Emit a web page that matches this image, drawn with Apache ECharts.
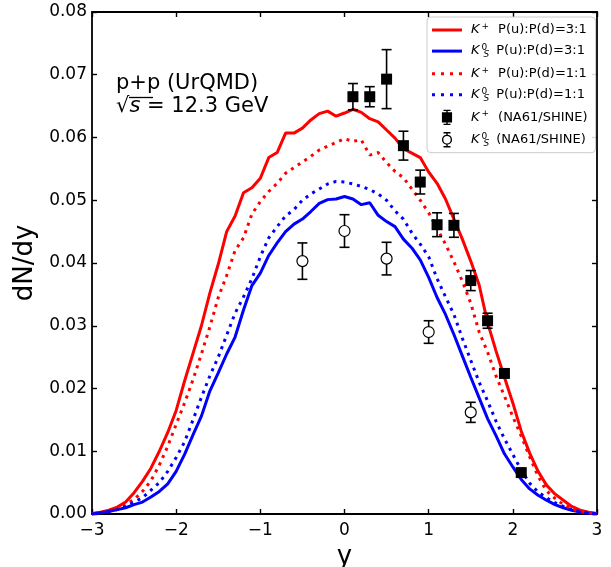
<!DOCTYPE html>
<html>
<head>
<meta charset="utf-8">
<script src="https://cdn.jsdelivr.net/npm/echarts@6/dist/echarts.min.js"></script>
<style>
html,body{margin:0;padding:0;background:#fff;}
#chart{width:611px;height:567px;}
</style>
</head>
<body>
<div id="chart"></div>
<script>
// ---- data ----
const rapidity = [-3.0,-2.9,-2.8,-2.7,-2.6,-2.5,-2.4,-2.3,-2.2,-2.1,-2.0,-1.9,-1.8,-1.7,-1.6,-1.5,-1.4,-1.3,-1.2,-1.1,-1.0,-0.9,-0.8,-0.7,-0.6,-0.5,-0.4,-0.3,-0.2,-0.1,0.0,0.1,0.2,0.3,0.4,0.5,0.6,0.7,0.8,0.9,1.0,1.1,1.2,1.3,1.4,1.5,1.6,1.7,1.8,1.9,2.0,2.1,2.2,2.3,2.4,2.5,2.6,2.7,2.8,2.9,3.0];

const kplus31 = [0.0001,0.0003,0.0006,0.0011,0.0019,0.0034,0.0052,0.0073,0.0100,0.0130,0.0165,0.0212,0.0256,0.0300,0.0352,0.0398,0.0450,0.0475,0.0512,0.0520,0.0535,0.0568,0.0576,0.0607,0.0607,0.0615,0.0628,0.0638,0.0642,0.0634,0.0639,0.0645,0.0640,0.0630,0.0625,0.0612,0.0599,0.0582,0.0575,0.0568,0.0545,0.0527,0.0502,0.0470,0.0438,0.0403,0.0365,0.0305,0.0260,0.0218,0.0177,0.0132,0.0097,0.0068,0.0046,0.0032,0.0022,0.0012,0.0006,0.0003,0.0001];

const k0s31 = [0.0000,0.0002,0.0004,0.0007,0.0010,0.0015,0.0019,0.0027,0.0036,0.0048,0.0068,0.0095,0.0126,0.0156,0.0196,0.0225,0.0255,0.0282,0.0325,0.0364,0.0384,0.0412,0.0432,0.0450,0.0462,0.0470,0.0482,0.0495,0.0501,0.0502,0.0506,0.0502,0.0493,0.0496,0.0476,0.0466,0.0458,0.0438,0.0424,0.0405,0.0377,0.0345,0.0318,0.0286,0.0252,0.0218,0.0185,0.0152,0.0125,0.0096,0.0075,0.0055,0.0040,0.0030,0.0022,0.0015,0.0010,0.0006,0.0003,0.0001,0.0000];

const kplus11 = [0.0000,0.0002,0.0004,0.0010,0.0015,0.0023,0.0036,0.0053,0.0078,0.0108,0.0143,0.0177,0.0214,0.0255,0.0298,0.0345,0.0380,0.0420,0.0440,0.0478,0.0498,0.0514,0.0527,0.0543,0.0552,0.0561,0.0570,0.0580,0.0586,0.0592,0.0598,0.0594,0.0596,0.0572,0.0576,0.0560,0.0546,0.0536,0.0518,0.0500,0.0480,0.0455,0.0430,0.0402,0.0371,0.0336,0.0290,0.0258,0.0220,0.0188,0.0155,0.0124,0.0091,0.0060,0.0037,0.0025,0.0015,0.0008,0.0004,0.0002,0.0000];

const k0s11 = [0.0000,0.0002,0.0004,0.0007,0.0012,0.0019,0.0026,0.0038,0.0050,0.0068,0.0090,0.0115,0.0150,0.0186,0.0220,0.0250,0.0285,0.0320,0.0346,0.0375,0.0410,0.0440,0.0458,0.0475,0.0485,0.0500,0.0510,0.0518,0.0526,0.0530,0.0529,0.0526,0.0522,0.0517,0.0510,0.0500,0.0483,0.0470,0.0448,0.0430,0.0410,0.0375,0.0346,0.0318,0.0280,0.0245,0.0210,0.0180,0.0148,0.0120,0.0095,0.0070,0.0049,0.0035,0.0026,0.0018,0.0012,0.0007,0.0004,0.0002,0.0000];

// NA61/SHINE measurements
const kplusDataY   = [0.1,0.3,0.5,0.7,0.9,1.1,1.3,1.5,1.7,1.9,2.1];
const kplusDataVal = [0.0665,0.0665,0.0693,0.0587,0.0529,0.0461,0.0460,0.0372,0.0308,0.0224,0.0066];
const kplusDataErr = [0.0021,0.0016,0.0047,0.0023,0.0019,0.0019,0.0019,0.0016,0.0012,0.0004,0.0003];

const k0sDataY   = [-0.5,0.0,0.5,1.0,1.5];
const k0sDataVal = [0.0403,0.0451,0.0407,0.0290,0.0162];
const k0sDataErr = [0.0029,0.0026,0.0026,0.0018,0.0016];

// ---- build ----
const pairs = (xs, ys) => xs.map((x, i) => [x, ys[i]]);
const errTriples = (xs, ys, es) => xs.map((x, i) => [x, ys[i], es[i]]);

const labelText = {
  kp31: '{k|K}{sp|+}{t|P(u):P(d)=3:1}',
  ks31: '{k|K}{s0|0}{ss|S}{t|P(u):P(d)=3:1}',
  kp11: '{k|K}{sp|+}{t|P(u):P(d)=1:1}',
  ks11: '{k|K}{s0|0}{ss|S}{t|P(u):P(d)=1:1}',
  kpd:  '{k|K}{sp|+}{t|(NA61/SHINE)}',
  ksd:  '{k|K}{s0|0}{ss|S}{t|(NA61/SHINE)}'
};

function errRender(params, api) {
  const x = api.value(0), y = api.value(1), e = api.value(2);
  const top = api.coord([x, y + e]);
  const bot = api.coord([x, y - e]);
  const hw = 5;
  const st = {stroke: '#000', lineWidth: 1.6};
  return {
    type: 'group',
    children: [
      {type: 'line', shape: {x1: top[0], y1: top[1], x2: bot[0], y2: bot[1]}, style: st},
      {type: 'line', shape: {x1: top[0] - hw, y1: top[1], x2: top[0] + hw, y2: top[1]}, style: st},
      {type: 'line', shape: {x1: bot[0] - hw, y1: bot[1], x2: bot[0] + hw, y2: bot[1]}, style: st}
    ]
  };
}

const solidIcon = 'path://M0 0h30v3h-30z';
const dotIcon = 'path://M0 0h3v3h-3z M9 0h3v3h-3z M18 0h3v3h-3z M27 0h3v3h-3z';

const chart = echarts.init(document.getElementById('chart'));
const axisLineStyle = {color: '#000', width: 1.8};
const tickStyle = {color: '#000', width: 1.4};

const option = {
  animation: false,
  backgroundColor: '#fff',
  textStyle: {fontFamily: 'DejaVu Sans', color: '#000'},
  grid: {left: 92, right: 14, top: 12, bottom: 53, containLabel: false, outerBoundsMode: 'none'},
  xAxis: [{
    type: 'value', min: -3, max: 3, interval: 1, position: 'bottom',
    axisLine: {show: true, onZero: false, lineStyle: axisLineStyle},
    axisTick: {show: true, inside: true, length: 5, lineStyle: tickStyle},
    splitLine: {show: false},
    axisLabel: {fontSize: 17, color: '#000', margin: 8, fontFamily: 'DejaVu Sans',
      formatter: v => (v < 0 ? '\u2212' + Math.abs(v) : String(v))},
    name: 'y', nameLocation: 'middle', nameGap: 27,
    nameTextStyle: {fontSize: 26, color: '#000', fontFamily: 'DejaVu Sans'}
  }, {
    type: 'value', min: -3, max: 3, interval: 1, position: 'top',
    axisLine: {show: true, onZero: false, lineStyle: axisLineStyle},
    axisTick: {show: true, inside: true, length: 5, lineStyle: tickStyle},
    splitLine: {show: false}, axisLabel: {show: false}
  }],
  yAxis: [{
    type: 'value', min: 0, max: 0.08, interval: 0.01, position: 'left',
    axisLine: {show: true, onZero: false, lineStyle: axisLineStyle},
    axisTick: {show: true, inside: true, length: 5, lineStyle: tickStyle},
    splitLine: {show: false},
    axisLabel: {fontSize: 17, color: '#000', margin: 5, fontFamily: 'DejaVu Sans',
      formatter: v => v.toFixed(2)},
    name: 'dN/dy', nameLocation: 'middle', nameGap: 52, nameRotate: 90,
    nameTextStyle: {fontSize: 26, color: '#000', fontFamily: 'DejaVu Sans'}
  }, {
    type: 'value', min: 0, max: 0.08, interval: 0.01, position: 'right',
    axisLine: {show: true, onZero: false, lineStyle: axisLineStyle},
    axisTick: {show: true, inside: true, length: 5, lineStyle: tickStyle},
    splitLine: {show: false}, axisLabel: {show: false}
  }],
  legend: {
    orient: 'vertical', left: 427, top: 17,
    padding: [5, 8, 5, 5],
    itemWidth: 30, itemHeight: 14, itemGap: 6.6,
    backgroundColor: 'rgba(255,255,255,0.85)',
    borderColor: '#cccccc', borderWidth: 1, borderRadius: 4,
    data: [
      {name: 'kp31', icon: solidIcon, itemStyle: {color: '#ff0000', borderWidth: 0}},
      {name: 'ks31', icon: solidIcon, itemStyle: {color: '#0000ff', borderWidth: 0}},
      {name: 'kp11', icon: dotIcon, itemStyle: {color: '#ff0000', borderWidth: 0}},
      {name: 'ks11', icon: dotIcon, itemStyle: {color: '#0000ff', borderWidth: 0}},
      {name: 'kpd', icon: 'path://M1 3L11 3L11 13L1 13Z M6 0L6 16 M2 0L10 0 M2 16L10 16',
        itemStyle: {color: '#000', borderColor: '#000', borderWidth: 1.4}},
      {name: 'ksd', icon: 'path://M1 8A5 5 0 1 0 11 8A5 5 0 1 0 1 8Z M6 0L6 3 M6 13L6 16 M2 0L10 0 M2 16L10 16',
        itemStyle: {color: '#fff', borderColor: '#000', borderWidth: 1.4}}
    ],
    formatter: n => labelText[n],
    textStyle: {
      fontFamily: 'DejaVu Sans', fontSize: 13, color: '#000',
      rich: {
        k: {fontFamily: 'DejaVu Sans', fontStyle: 'italic', fontSize: 13, lineHeight: 16, padding: [0, 0, 0, 4]},
        sp: {fontFamily: 'DejaVu Sans', fontSize: 9, lineHeight: 16, verticalAlign: 'top', padding: [0, 9, 0, 2]},
        s0: {fontFamily: 'DejaVu Sans', fontSize: 9, lineHeight: 16, verticalAlign: 'top', width: 0.01, padding: [0, 0, 0, 2]},
        ss: {fontFamily: 'DejaVu Sans', fontStyle: 'italic', fontSize: 9, lineHeight: 16, verticalAlign: 'bottom', padding: [0, 7, 0, 2]},
        t: {fontFamily: 'DejaVu Sans', fontSize: 13, lineHeight: 16}
      }
    }
  },
  graphic: [
    {type: 'text', left: 116, top: 73, z: 10,
      style: {text: 'p+p (UrQMD)', fontFamily: 'DejaVu Sans', fontSize: 21, fill: '#000'}},
    {type: 'text', left: 116, top: 96, z: 10,
      style: {text: '{r|\u221A}{s|s}{t| = 12.3 GeV}', fill: '#000',
        rich: {
          r: {fontFamily: 'DejaVu Sans', fontSize: 21},
          s: {fontFamily: 'DejaVu Sans', fontStyle: 'italic', fontSize: 21},
          t: {fontFamily: 'DejaVu Sans', fontSize: 21}
        }}},
    {type: 'line', z: 10, shape: {x1: 129, y1: 97.5, x2: 153, y2: 97.5},
      style: {stroke: '#000', lineWidth: 1.3}}
  ],
  series: [
    {name: 'kp31', type: 'line', data: pairs(rapidity, kplus31), symbol: 'none', z: 2,
      lineStyle: {color: '#ff0000', width: 3}, itemStyle: {color: '#ff0000'}},
    {name: 'ks31', type: 'line', data: pairs(rapidity, k0s31), symbol: 'none', z: 2,
      lineStyle: {color: '#0000ff', width: 3}, itemStyle: {color: '#0000ff'}},
    {name: 'kp11', type: 'line', data: pairs(rapidity, kplus11), symbol: 'none', z: 2,
      lineStyle: {color: '#ff0000', width: 3, type: [3, 5], cap: 'butt'}, itemStyle: {color: '#ff0000'}},
    {name: 'ks11', type: 'line', data: pairs(rapidity, k0s11), symbol: 'none', z: 2,
      lineStyle: {color: '#0000ff', width: 3, type: [3, 5], cap: 'butt'}, itemStyle: {color: '#0000ff'}},
    {name: 'kpdErr', type: 'custom', renderItem: errRender, z: 3,
      data: errTriples(kplusDataY, kplusDataVal, kplusDataErr), encode: {x: 0, y: 1}},
    {name: 'ksdErr', type: 'custom', renderItem: errRender, z: 3,
      data: errTriples(k0sDataY, k0sDataVal, k0sDataErr), encode: {x: 0, y: 1}},
    {name: 'kpd', type: 'scatter', data: pairs(kplusDataY, kplusDataVal), z: 4,
      symbol: 'rect', symbolSize: 11, itemStyle: {color: '#000', opacity: 1}},
    {name: 'ksd', type: 'scatter', data: pairs(k0sDataY, k0sDataVal), z: 4,
      symbol: 'circle', symbolSize: 11, itemStyle: {color: '#fff', borderColor: '#000', borderWidth: 1.2, opacity: 1}}
  ]
};
chart.setOption(option);
</script>
</body>
</html>
